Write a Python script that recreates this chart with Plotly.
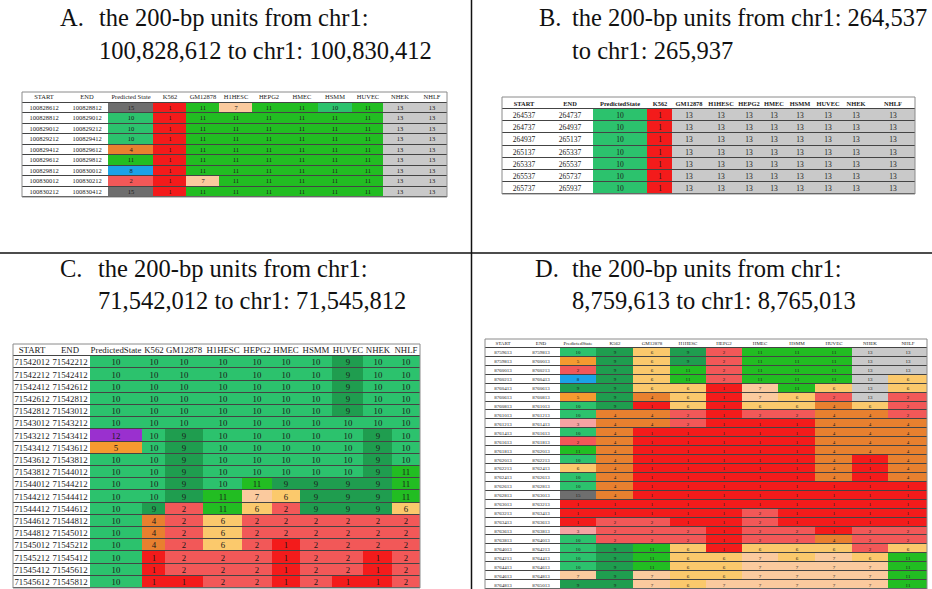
import plotly.graph_objects as go

# ---------------- data ----------------
CELL_TYPES = ["K562", "GM12878", "H1HESC", "HEPG2", "HMEC", "HSMM", "HUVEC", "NHEK", "NHLF"]
HEADER_A = ["START", "END", "Predicted State"] + CELL_TYPES
HEADER_BCD = ["START", "END", "PredictedState"] + CELL_TYPES

A_start = [100828612, 100828812, 100829012, 100829212, 100829412, 100829612, 100829812, 100830012, 100830212]
A_end = [100828812, 100829012, 100829212, 100829412, 100829612, 100829812, 100830012, 100830212, 100830412]
A_pred = [15, 10, 10, 10, 4, 11, 8, 2, 15]
A_states = [
    [1, 11, 7, 11, 11, 10, 11, 13, 13],
    [1, 11, 11, 11, 11, 11, 11, 13, 13],
    [1, 11, 11, 11, 11, 11, 11, 13, 13],
    [1, 11, 11, 11, 11, 11, 11, 13, 13],
    [1, 11, 11, 11, 11, 11, 11, 13, 13],
    [1, 11, 11, 11, 11, 11, 11, 13, 13],
    [1, 11, 11, 11, 11, 11, 11, 13, 13],
    [1, 7, 11, 11, 11, 11, 11, 13, 13],
    [1, 11, 11, 11, 11, 11, 11, 13, 13],
]

B_start = [264537, 264737, 264937, 265137, 265337, 265537, 265737]
B_end = [264737, 264937, 265137, 265337, 265537, 265737, 265937]
B_pred = [10, 10, 10, 10, 10, 10, 10]
B_states = [
    [1, 13, 13, 13, 13, 13, 13, 13, 13],
    [1, 13, 13, 13, 13, 13, 13, 13, 13],
    [1, 13, 13, 13, 13, 13, 13, 13, 13],
    [1, 13, 13, 13, 13, 13, 13, 13, 13],
    [1, 13, 13, 13, 13, 13, 13, 13, 13],
    [1, 13, 13, 13, 13, 13, 13, 13, 13],
    [1, 13, 13, 13, 13, 13, 13, 13, 13],
]

C_start = [71542012, 71542212, 71542412, 71542612, 71542812, 71543012, 71543212, 71543412, 71543612,
           71543812, 71544012, 71544212, 71544412, 71544612, 71544812, 71545012, 71545212, 71545412, 71545612]
C_end = [71542212, 71542412, 71542612, 71542812, 71543012, 71543212, 71543412, 71543612, 71543812,
         71544012, 71544212, 71544412, 71544612, 71544812, 71545012, 71545212, 71545412, 71545612, 71545812]
C_pred = [10, 10, 10, 10, 10, 10, 12, 5, 10, 10, 10, 10, 10, 10, 10, 10, 10, 10, 10]
C_states = [
    [10, 10, 10, 10, 10, 10, 9, 10, 10],
    [10, 10, 10, 10, 10, 10, 9, 10, 10],
    [10, 10, 10, 10, 10, 10, 9, 10, 10],
    [10, 10, 10, 10, 10, 10, 9, 10, 10],
    [10, 10, 10, 10, 10, 10, 9, 10, 10],
    [10, 10, 10, 10, 10, 10, 10, 10, 10],
    [10, 9, 10, 10, 10, 10, 10, 9, 10],
    [10, 9, 10, 10, 10, 10, 10, 9, 10],
    [10, 9, 10, 10, 10, 10, 10, 9, 10],
    [10, 9, 10, 10, 10, 10, 10, 9, 11],
    [10, 9, 10, 11, 9, 9, 9, 9, 11],
    [10, 9, 11, 7, 6, 9, 9, 9, 11],
    [9, 2, 11, 6, 2, 9, 9, 9, 6],
    [4, 2, 6, 2, 2, 2, 2, 2, 2],
    [4, 2, 6, 2, 2, 2, 2, 2, 2],
    [4, 2, 6, 2, 1, 2, 2, 2, 2],
    [1, 2, 2, 2, 1, 2, 2, 1, 2],
    [1, 2, 2, 2, 1, 2, 2, 1, 2],
    [1, 1, 2, 2, 1, 2, 1, 1, 2],
]

D_start = [8759613, 8759813, 8760013, 8760213, 8760413, 8760613, 8760813, 8761013, 8761213,
           8761413, 8761613, 8761813, 8762013, 8762213, 8762413, 8762613, 8762813, 8763013,
           8763213, 8763413, 8763613, 8763813, 8764013, 8764213, 8764413, 8764613, 8764813]
D_end = [8759813, 8760013, 8760213, 8760413, 8760613, 8760813, 8761013, 8761213, 8761413,
         8761613, 8761813, 8762013, 8762213, 8762413, 8762613, 8762813, 8763013, 8763213,
         8763413, 8763613, 8763813, 8764013, 8764213, 8764413, 8764613, 8764813, 8765013]
D_pred = [10, 5, 2, 8, 9, 5, 10, 10, 3, 10, 2, 11, 10, 6, 10, 10, 15, 1, 1, 1, 3, 10, 10, 10, 10, 7, 9]
D_states = [
    [9, 6, 9, 2, 11, 11, 11, 13, 13],
    [9, 6, 9, 2, 11, 11, 11, 13, 13],
    [9, 6, 11, 2, 11, 11, 11, 13, 13],
    [9, 6, 11, 2, 11, 11, 11, 13, 6],
    [9, 6, 6, 1, 7, 11, 6, 13, 6],
    [9, 4, 6, 1, 7, 6, 2, 13, 2],
    [9, 1, 6, 1, 6, 6, 4, 6, 2],
    [4, 4, 2, 1, 2, 2, 4, 4, 2],
    [4, 4, 2, 1, 1, 1, 4, 4, 4],
    [4, 1, 1, 1, 1, 1, 4, 4, 4],
    [4, 1, 1, 1, 1, 1, 4, 4, 4],
    [4, 1, 1, 1, 1, 1, 4, 4, 4],
    [4, 1, 1, 1, 1, 1, 4, 1, 4],
    [4, 1, 1, 1, 1, 1, 4, 1, 4],
    [4, 1, 1, 1, 1, 1, 4, 1, 4],
    [4, 1, 1, 1, 1, 1, 1, 1, 1],
    [4, 1, 1, 1, 1, 1, 1, 1, 1],
    [1, 1, 1, 1, 1, 1, 1, 1, 1],
    [1, 1, 1, 1, 2, 1, 1, 1, 1],
    [2, 2, 1, 1, 2, 1, 1, 1, 1],
    [2, 2, 2, 1, 2, 2, 1, 2, 2],
    [2, 2, 2, 1, 2, 2, 4, 2, 2],
    [9, 11, 6, 1, 6, 6, 6, 2, 6],
    [9, 11, 6, 6, 7, 6, 7, 6, 11],
    [9, 11, 6, 6, 7, 7, 7, 7, 11],
    [9, 7, 6, 6, 7, 7, 7, 7, 11],
    [9, 7, 6, 7, 7, 7, 7, 7, 11],
]

TITLES = {
    "A": ["the 200-bp units from chr1:", "100,828,612 to chr1: 100,830,412"],
    "B": ["the 200-bp units from chr1: 264,537", "to chr1: 265,937"],
    "C": ["the 200-bp units from chr1:", "71,542,012 to chr1: 71,545,812"],
    "D": ["the 200-bp units from chr1:", "8,759,613 to chr1: 8,765,013"],
}

# ---------------- styling ----------------
STATE_COLORS = [
    "#FFFFFF",  # 0 = plain (labels / header)
    "#F31B1B",  # 1
    "#F25858",  # 2
    "#F5A3A3",  # 3
    "#E8802F",  # 4
    "#F59A30",  # 5
    "#FBC96C",  # 6
    "#FBCA9E",  # 7
    "#1BA2E6",  # 8
    "#1F9D4F",  # 9
    "#2CC26D",  # 10
    "#22BD22",  # 11
    "#9A30CF",  # 12
    "#C9C9C9",  # 13
    "#A0A0A0",  # 14
    "#6E6E6E",  # 15
]
NLEV = len(STATE_COLORS)
colorscale = []
for i, c in enumerate(STATE_COLORS):
    colorscale.append([i / NLEV, c])
    colorscale.append([(i + 1) / NLEV, c])

W, H = 932, 589
SERIF = "Liberation Serif"

fig = go.Figure()


def add_panel(k, header, starts, ends, pred, states, xpx, ypx, widths, fsize, header_style):
    edges = [0]
    for w in widths:
        edges.append(edges[-1] + w)
    hdr = [header_style % h for h in header]
    z = [[0] * len(header)]
    text = [hdr]
    for s, e, p, row in zip(starts, ends, pred, states):
        z.append([0, 0, p] + list(row))
        text.append([str(s), str(e), str(p)] + [str(v) for v in row])
    n = len(z)
    sfx = "" if k == 1 else str(k)
    fig.add_trace(go.Heatmap(
        x=edges, y=list(range(n)), z=z, text=text, texttemplate="%{text}",
        textfont=dict(family=SERIF, size=fsize, color="#1a1a1a"),
        colorscale=colorscale, zmin=-0.5, zmax=NLEV - 0.5, showscale=False,
        xgap=0, ygap=1, hoverinfo="skip",
        xaxis="x" + sfx, yaxis="y" + sfx,
    ))
    fig.update_layout(**{
        "xaxis" + sfx: dict(domain=[xpx[0] / W, xpx[1] / W], range=[0, edges[-1]],
                            visible=False, fixedrange=True),
        "yaxis" + sfx: dict(domain=[1 - ypx[1] / H, 1 - ypx[0] / H], range=[n - 0.5, -0.5],
                            visible=False, fixedrange=True),
    })
    fig.add_shape(type="rect", xref="x%s domain" % sfx, yref="y%s domain" % sfx,
                  x0=0, x1=1, y0=0, y1=1, line=dict(color="#8a8a8a", width=1))


add_panel(1, HEADER_A, A_start, A_end, A_pred, A_states, (22, 447), (92, 197),
          [43, 43, 45, 33, 33, 33, 33, 33, 34, 31, 34, 30], 6.5, "%s")
add_panel(2, HEADER_BCD, B_start, B_end, B_pred, B_states, (502, 915), (97, 194),
          [44, 47, 54, 25, 33, 31, 26, 24, 27, 29, 28, 45], 7.5,
          "<span style='font-size:6.4px'><b>%s</b></span>")
add_panel(3, HEADER_BCD, C_start, C_end, C_pred, C_states, (13, 420), (344, 588),
          [37, 40, 52, 23, 38, 39, 30, 28, 32, 31, 29, 28], 8.8, "%s")
add_panel(4, HEADER_BCD, D_start, D_end, D_pred, D_states, (485, 927), (339, 589),
          [36, 39, 36, 37, 37, 36, 36, 36, 37, 37, 36, 39], 5, "%s")

# ---------------- titles ----------------
title_pos = {
    "A": (58, 97, 18, 50),
    "B": (537, 570, 18, 50),
    "C": (58, 96, 268, 300),
    "D": (533, 570, 268, 300),
}
for key, (xl, xt, y1, y2) in title_pos.items():
    fig.add_annotation(x=xl / W, y=1 - y1 / H, xref="paper", yref="paper", text=key + ".",
                       showarrow=False, xanchor="left", yanchor="middle",
                       font=dict(family=SERIF, size=24.5, color="#111111"))
    for line, yy in zip(TITLES[key], (y1, y2)):
        fig.add_annotation(x=xt / W, y=1 - yy / H, xref="paper", yref="paper", text=line,
                           showarrow=False, xanchor="left", yanchor="middle",
                           font=dict(family=SERIF, size=24.5, color="#111111"))

# divider lines
fig.add_shape(type="line", xref="paper", yref="paper", x0=471.5 / W, x1=471.5 / W, y0=0, y1=1,
              line=dict(color="#111111", width=1.5))
fig.add_shape(type="line", xref="paper", yref="paper", x0=0, x1=1, y0=1 - 253 / H, y1=1 - 253 / H,
              line=dict(color="#111111", width=1.5))

fig.update_layout(width=W, height=H, margin=dict(l=0, r=0, t=0, b=0),
                  paper_bgcolor="white", plot_bgcolor="#444444", showlegend=False)

fig.write_html("out.html", config={"displayModeBar": False, "staticPlot": True},
               post_script="document.body.style.margin='0px';document.body.style.padding='0px';")
